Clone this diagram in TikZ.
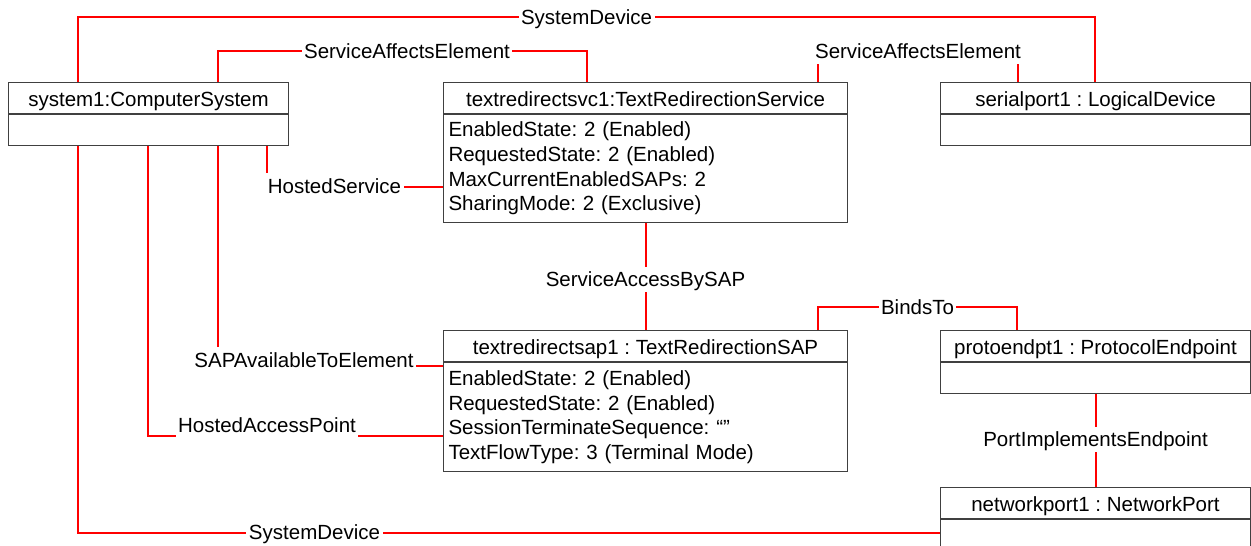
\documentclass[tikz,border=0pt]{standalone}
\usepackage{fontspec}
\setmainfont{Liberation Sans}
\usetikzlibrary{calc}
\definecolor{connred}{RGB}{255,0,0}
\definecolor{boxgray}{RGB}{64,64,64}
\begin{document}
\frenchspacing
\begin{tikzpicture}[x=1pt,y=-1pt,
  every node/.style={font=\fontsize{20.5}{24.6}\selectfont\frenchspacing},
  hdr/.style={draw=boxgray, line width=1pt, anchor=north west, minimum height=31pt,
    inner xsep=0pt, inner ysep=0pt, text height=24pt, text depth=7pt},
  cmp/.style={draw=boxgray, line width=1pt, anchor=north west, inner xsep=5pt,
    inner ysep=0pt, align=left},
  conn/.style={draw=connred, line width=1.5pt},
  lbl/.style={fill=white, inner xsep=2.5pt, inner ysep=1pt, text height=19.2pt, text depth=4.5pt}
]
\useasboundingbox (0,0) rectangle (1251,546);
\clip (0,0) rectangle (1251,546);

% boxes
\node[hdr, minimum width=280pt] (sys) at (8,82) {system1:ComputerSystem};
\node[cmp, minimum width=280pt, minimum height=31pt] (sysb) at (sys.south west) {};

\node[hdr, minimum width=404pt] (svc) at (443,82) {textredirectsvc1:TextRedirectionService};
\node[cmp, text width=394pt, minimum height=108pt] (svcb) at (svc.south west)
  {EnabledState: 2 (Enabled)\\RequestedState: 2 (Enabled)\\MaxCurrentEnabledSAPs: 2\\SharingMode: 2 (Exclusive)};

\node[hdr, minimum width=310pt] (ser) at (940,82) {serialport1 : LogicalDevice};
\node[cmp, minimum width=310pt, minimum height=31pt] (serb) at (ser.south west) {};

\node[hdr, minimum width=404pt] (sap) at (443,330) {textredirectsap1 : TextRedirectionSAP};
\node[cmp, text width=394pt, minimum height=109pt] (sapb) at (sap.south west)
  {EnabledState: 2 (Enabled)\\RequestedState: 2 (Enabled)\\SessionTerminateSequence: “”\\TextFlowType: 3 (Terminal Mode)};

\node[hdr, minimum width=310pt] (pro) at (940,330) {protoendpt1 : ProtocolEndpoint};
\node[cmp, minimum width=310pt, minimum height=31pt] (prob) at (pro.south west) {};

\node[hdr, minimum width=310pt] (net) at (940,487) {networkport1 : NetworkPort};
\node[cmp, minimum width=310pt, minimum height=60pt] (netb) at (net.south west) {};

% connector lines
\draw[conn] ([xshift=70pt]sys.north west) -- ++(0,-65) -| ([xshift=155pt]ser.north west);
\draw[conn] ([xshift=210pt]sys.north west) -- ++(0,-31) -| ([xshift=144pt]svc.north west);
\draw[conn] ([xshift=375pt]svc.north west) -- ++(0,-31) -| ([xshift=78pt]ser.north west);
\draw[conn] ([xshift=259pt]sysb.south west) |- ($(svcb.north west)+(0,73)$);
\draw[conn] ([xshift=0.5pt]svcb.south) -- ([xshift=0.5pt]sap.north);
\draw[conn] ([xshift=375pt]sap.north west) -- ++(0,-23) -| ([xshift=77pt]pro.north west);
\draw[conn] ([xshift=0.5pt]prob.south) -- ([xshift=0.5pt]net.north);
\draw[conn] ([xshift=210pt]sysb.south west) |- ($(sapb.north west)+(0,4)$);
\draw[conn] ([xshift=140pt]sysb.south west) |- ($(sapb.north west)+(0,74)$);
\draw[conn] ([xshift=70pt]sysb.south west) |- ($(netb.north west)+(0,14)$);

% connector labels
\node[lbl] (l1) at (586.5,17) {SystemDevice};
\node[lbl] (l2) at (407,51) {ServiceAffectsElement};
\node[lbl] (l3) at (918,51) {ServiceAffectsElement};
\node[lbl] (l4) at (334.5,186) {HostedService};
\node[lbl] (l5) at (645.5,279.5) {ServiceAccessBySAP};
\node[lbl] (l6) at (917.5,307) {BindsTo};
\node[lbl] (l7) at (1095.5,439.5) {PortImplementsEndpoint};
\node[lbl] (l8) at (304,360) {SAPAvailableToElement};
\node[lbl] (l9) at (267,425) {HostedAccessPoint};
\node[lbl] (l10) at (314.5,532) {SystemDevice};
\end{tikzpicture}
\end{document}
